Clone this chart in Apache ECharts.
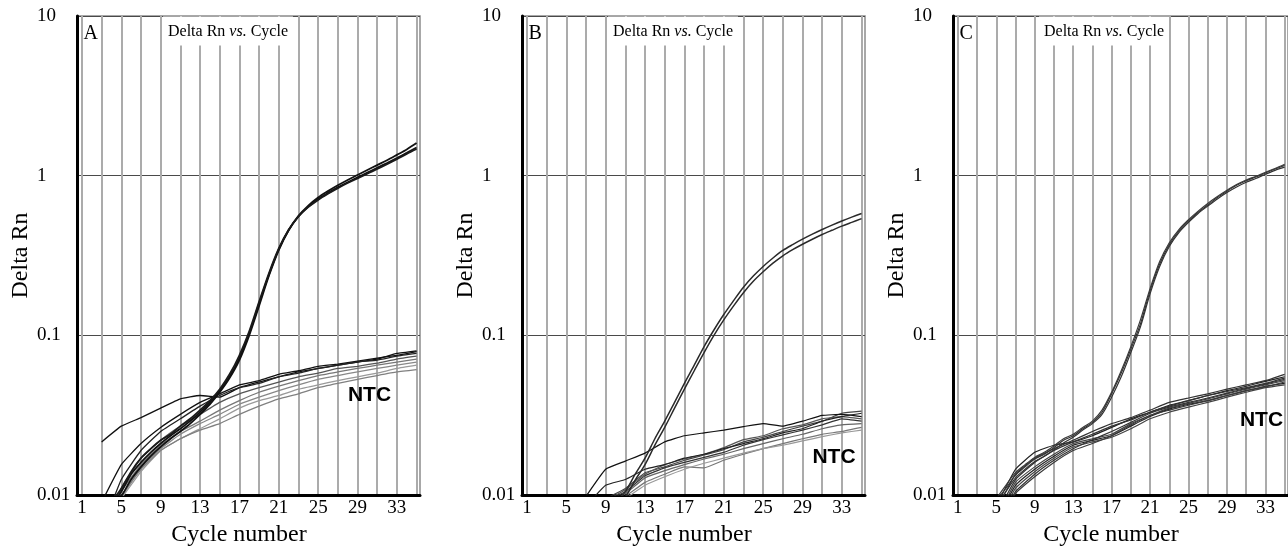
<!DOCTYPE html>
<html>
<head>
<meta charset="utf-8">
<script src="https://cdn.jsdelivr.net/npm/echarts@6/dist/echarts.min.js"></script>
<style>
  html, body { margin: 0; padding: 0; background: #fff; }
  #chart { width: 1288px; height: 552px; }
</style>
</head>
<body>
<div id="chart"></div>
<script>
// ---------- axes / ticks ----------
const cycles = [1,2,3,4,5,6,7,8,9,10,11,12,13,14,15,16,17,18,19,20,21,22,23,24,25,26,27,28,29,30,31,32,33,34,35];
const oddCycles = [1,3,5,7,9,11,13,15,17,19,21,23,25,27,29,31,33,35];
const xGridCycles = [1,3,5,7,9,11,13,15,17,19,21,23,25,27,29,31,33,35];
const xTickLabels = [1,5,9,13,17,21,25,29,33];
const yTickLabels = ['0.01','0.1','1','10'];
const panelLetters = ['A','B','C'];
const ntcText = 'NTC';

// ---------- Panel A (values per cycle 1..35) ----------
const posA1 = [null,null,null,0.0085,0.0105,0.0135,0.016,0.0185,0.021,0.0235,0.026,0.029,0.033,0.038,0.045,0.055,0.072,0.103,0.158,0.24,0.345,0.455,0.555,0.64,0.715,0.78,0.845,0.91,0.975,1.045,1.12,1.2,1.29,1.39,1.5];
const posA2 = [null,null,null,0.008,0.0098,0.0125,0.015,0.0175,0.02,0.0225,0.025,0.028,0.032,0.037,0.044,0.054,0.07,0.1,0.153,0.236,0.342,0.455,0.56,0.65,0.73,0.8,0.87,0.94,1.01,1.085,1.165,1.25,1.35,1.46,1.6];
const posA3 = [null,null,null,0.009,0.011,0.014,0.017,0.0195,0.022,0.024,0.027,0.03,0.034,0.039,0.046,0.057,0.075,0.106,0.162,0.245,0.35,0.458,0.555,0.635,0.705,0.77,0.835,0.9,0.96,1.03,1.1,1.18,1.27,1.37,1.47];
// NTC A (values at odd cycles 1..35)
const ntcA1 = [null,0.0215,0.027,0.0305,0.035,0.04,0.042,0.041,0.047,0.051,0.055,0.059,0.062,0.065,0.068,0.071,0.077,0.08];
const ntcA2 = [null,0.009,0.0155,0.021,0.0265,0.032,0.038,0.043,0.049,0.052,0.057,0.06,0.064,0.066,0.069,0.072,0.075,0.079];
const ntcA3 = [null,0.006,0.0125,0.019,0.025,0.03,0.036,0.042,0.047,0.05,0.055,0.058,0.062,0.065,0.068,0.07,0.074,0.077];
const ntcA4 = [null,0.005,0.011,0.017,0.022,0.027,0.032,0.038,0.043,0.047,0.051,0.055,0.058,0.062,0.064,0.067,0.071,0.074];
const ntcA5 = [null,0.005,0.0105,0.0155,0.0205,0.025,0.029,0.034,0.039,0.044,0.048,0.052,0.056,0.059,0.062,0.065,0.068,0.071];
const ntcA6 = [null,0.0045,0.0095,0.0148,0.0195,0.024,0.028,0.032,0.037,0.041,0.045,0.049,0.053,0.056,0.059,0.062,0.065,0.068];
const ntcA7 = [null,null,0.0095,0.014,0.019,0.0225,0.026,0.03,0.035,0.039,0.042,0.046,0.049,0.052,0.055,0.058,0.062,0.065];
const ntcA8 = [null,0.0045,0.0098,0.0145,0.019,0.0225,0.0255,0.028,0.032,0.036,0.04,0.043,0.047,0.05,0.053,0.056,0.059,0.061];

// ---------- Panel B ----------
const posB1 = [null,null,null,null,null,null,null,null,null,0.0088,0.0105,0.0135,0.017,0.0225,0.029,0.038,0.05,0.065,0.085,0.108,0.135,0.165,0.2,0.235,0.27,0.305,0.34,0.37,0.4,0.43,0.46,0.49,0.52,0.55,0.58];
const posB2 = [null,null,null,null,null,null,null,null,null,0.0082,0.0097,0.0124,0.0155,0.0205,0.0265,0.035,0.046,0.06,0.078,0.1,0.125,0.153,0.185,0.218,0.25,0.283,0.315,0.344,0.372,0.4,0.428,0.455,0.483,0.51,0.538];
const ntcB1 = [null,null,null,0.0098,0.0145,0.0163,0.0183,0.0215,0.0235,0.0245,0.0255,0.0268,0.028,0.027,0.029,0.0315,0.032,0.031];
const ntcB2 = [null,null,null,0.0085,0.0115,0.0125,0.0145,0.0155,0.017,0.018,0.0195,0.021,0.0225,0.0245,0.026,0.029,0.031,0.0325];
const ntcB3 = [null,null,null,null,0.0095,0.011,0.0138,0.015,0.0165,0.0178,0.0192,0.0215,0.023,0.025,0.027,0.029,0.0325,0.0335];
const ntcB4 = [null,null,null,null,0.009,0.0105,0.0132,0.0148,0.016,0.0172,0.0185,0.0205,0.0222,0.0238,0.0255,0.0275,0.03,0.029];
const ntcB5 = [null,null,null,null,0.0088,0.0102,0.0128,0.0142,0.0155,0.0168,0.018,0.0195,0.021,0.0225,0.024,0.026,0.0275,0.028];
const ntcB6 = [null,null,null,null,0.0085,0.0098,0.012,0.0135,0.015,0.0148,0.0165,0.018,0.0195,0.021,0.0225,0.024,0.025,0.0265];
const ntcB7 = [null,null,null,null,0.008,0.0095,0.0115,0.013,0.0145,0.0158,0.017,0.0183,0.0195,0.0205,0.0218,0.0232,0.0245,0.0255];
const ntcB8 = [null,null,null,null,0.0092,0.0108,0.0135,0.0155,0.0168,0.018,0.0198,0.0222,0.0235,0.026,0.0275,0.03,0.031,0.03];

// ---------- Panel C ----------
const posC1 = [null,null,null,null,0.0092,0.011,0.0133,0.015,0.0168,0.018,0.0198,0.022,0.0235,0.026,0.0285,0.033,0.043,0.058,0.082,0.118,0.19,0.28,0.37,0.45,0.52,0.59,0.655,0.73,0.8,0.87,0.93,0.98,1.04,1.1,1.16];
const posC2 = [null,null,null,null,0.0088,0.0105,0.0128,0.0145,0.0162,0.0175,0.0192,0.0212,0.023,0.0255,0.028,0.032,0.041,0.055,0.078,0.113,0.182,0.27,0.36,0.44,0.51,0.58,0.645,0.715,0.785,0.85,0.91,0.96,1.02,1.08,1.13];
const posC3 = [null,null,null,null,0.0095,0.0115,0.0138,0.0155,0.0172,0.0185,0.0203,0.0225,0.024,0.0265,0.029,0.034,0.044,0.06,0.085,0.125,0.196,0.29,0.38,0.46,0.53,0.6,0.67,0.74,0.81,0.88,0.94,0.99,1.05,1.11,1.18];
const ntcC1 = [null,null,0.0085,0.0145,0.0185,0.0205,0.0215,0.0235,0.0265,0.03,0.033,0.0365,0.039,0.042,0.045,0.048,0.0515,0.055];
const ntcC2 = [null,null,0.008,0.0135,0.017,0.0195,0.022,0.025,0.028,0.0305,0.034,0.038,0.0405,0.043,0.046,0.049,0.052,0.057];
const ntcC3 = [null,null,0.0075,0.0125,0.016,0.019,0.0215,0.024,0.027,0.0295,0.033,0.036,0.039,0.042,0.0445,0.047,0.05,0.054];
const ntcC4 = [null,null,0.007,0.012,0.015,0.018,0.021,0.0225,0.024,0.028,0.0315,0.035,0.0375,0.04,0.043,0.046,0.049,0.052];
const ntcC5 = [null,null,0.0068,0.0115,0.0145,0.0175,0.0205,0.022,0.0235,0.027,0.031,0.0345,0.037,0.039,0.042,0.045,0.048,0.05];
const ntcC6 = [null,null,0.0065,0.011,0.014,0.017,0.02,0.0215,0.023,0.026,0.03,0.033,0.0355,0.038,0.041,0.044,0.047,0.049];
const ntcC7 = [null,null,0.0062,0.0105,0.0135,0.0165,0.0195,0.0222,0.025,0.0285,0.0325,0.0355,0.038,0.0405,0.0435,0.0465,0.0495,0.053];
const ntcC8 = [null,null,0.006,0.0102,0.013,0.016,0.019,0.021,0.0235,0.0275,0.0315,0.034,0.0365,0.039,0.042,0.045,0.0475,0.051];

// ---------- styling / layout (kept separate from data) ----------
const SERIF = '"Liberation Serif", "Times New Roman", serif';
const SANS = '"Liberation Sans", Arial, sans-serif';
const gridLefts = [77, 522, 953];
const gridTop = 16, gridW = 343, gridH = 484;
const ntcPos = [[292.5, 395], [312, 457], [308.5, 420]];

const panels = [
  {
    pos: [posA1, posA2, posA3], posColor: ['#111', '#111', '#1a1a1a'], posWidth: 1.8,
    ntc: [ntcA1, ntcA2, ntcA3, ntcA4, ntcA5, ntcA6, ntcA7, ntcA8],
    ntcColor: ['#111', '#111', '#222', '#555', '#777', '#888', '#9a9a9a', '#808080'], ntcWidth: 1.3
  },
  {
    pos: [posB1, posB2], posColor: ['#2a2a2a', '#2a2a2a'], posWidth: 1.5,
    ntc: [ntcB1, ntcB2, ntcB3, ntcB4, ntcB5, ntcB6, ntcB7, ntcB8],
    ntcColor: ['#111', '#222', '#444', '#333', '#666', '#777', '#999', '#555'], ntcWidth: 1.2
  },
  {
    pos: [posC1, posC2, posC3], posColor: ['#333', '#333', '#3a3a3a'], posWidth: 1.2,
    ntc: [ntcC1, ntcC2, ntcC3, ntcC4, ntcC5, ntcC6, ntcC7, ntcC8],
    ntcColor: ['#222', '#333', '#333', '#444', '#222', '#444', '#333', '#3a3a3a'], ntcWidth: 1.2
  }
];

function pairs(xs, ys) {
  const out = [];
  for (let i = 0; i < ys.length; i++) if (ys[i] != null) out.push([xs[i], ys[i]]);
  return out;
}

const grid = [], xAxis = [], yAxis = [], series = [], graphic = [];
panels.forEach((p, i) => {
  grid.push({ left: gridLefts[i], top: gridTop, width: gridW, height: gridH,
    show: true, borderColor: '#8c8c8c', borderWidth: 1.5, backgroundColor: 'transparent' });
  xAxis.push({
    gridIndex: i, type: 'value', min: 0.5, max: 35.35,
    axisLine: { show: true, onZero: false, lineStyle: { color: '#000', width: 3 } },
    axisTick: { show: false, customValues: xGridCycles },
    axisLabel: { customValues: xTickLabels, margin: 4, fontFamily: SERIF, fontSize: 19, color: '#000' },
    splitLine: { show: true, lineStyle: { color: '#ababab', width: 2 } },
    name: 'Cycle number', nameLocation: 'middle', nameGap: 28,
    nameTextStyle: { fontFamily: SERIF, fontSize: 24, color: '#000', padding: [0, 19, 0, 0] }
  });
  yAxis.push({
    gridIndex: i, type: 'log', logBase: 10, min: 0.01, max: 10,
    axisLine: { show: true, onZero: false, lineStyle: { color: '#000', width: 3 } },
    axisTick: { show: false },
    axisLabel: { align: 'left', margin: 40, fontFamily: SERIF, fontSize: 19, color: '#000',
      formatter: v => yTickLabels[Math.round(Math.log10(v)) + 2] },
    splitLine: { show: true, lineStyle: { color: '#4a4a4a', width: 1 } },
    name: 'Delta Rn', nameLocation: 'middle', nameGap: 44, nameRotate: 90,
    nameTextStyle: { fontFamily: SERIF, fontSize: 24, color: '#000' }
  });
  p.ntc.forEach((vals, k) => {
    series.push({ type: 'line', xAxisIndex: i, yAxisIndex: i, data: pairs(oddCycles, vals),
      showSymbol: false, symbol: 'none', smooth: 0.12, silent: true, animation: false,
      z: 2 + (p.ntcColor[k] < '#4' ? 1 : 0),
      lineStyle: { color: p.ntcColor[k], width: p.ntcWidth } });
  });
  p.pos.forEach((vals, k) => {
    series.push({ type: 'line', xAxisIndex: i, yAxisIndex: i, data: pairs(cycles, vals),
      showSymbol: false, symbol: 'none', smooth: 0.3, silent: true, animation: false, z: 4,
      lineStyle: { color: p.posColor[k], width: p.posWidth } });
  });
  graphic.push({ type: 'text', z: 100, x: gridLefts[i] + 151, y: 31,
    style: { text: '{a|Delta Rn }{b|vs.}{a| Cycle}', align: 'center', verticalAlign: 'middle',
      textAlign: 'center', textVerticalAlign: 'middle',
      backgroundColor: '#fff', padding: [7, 5, 6, 5],
      rich: { a: { fontFamily: SERIF, fontSize: 16, fill: '#000', color: '#000' },
              b: { fontFamily: SERIF, fontSize: 16, fontStyle: 'italic', fill: '#000', color: '#000' } } } });
  graphic.push({ type: 'text', z: 100, x: gridLefts[i] + 6.5, y: 34,
    style: { text: panelLetters[i], fontFamily: SERIF, fontSize: 20, fill: '#000',
      align: 'left', verticalAlign: 'middle', textAlign: 'left', textVerticalAlign: 'middle' } });
  graphic.push({ type: 'text', z: 100, x: gridLefts[i] + ntcPos[i][0], y: ntcPos[i][1],
    style: { text: ntcText, fontFamily: SANS, fontWeight: 'bold', fontSize: 21, fill: '#000',
      align: 'center', verticalAlign: 'middle', textAlign: 'center', textVerticalAlign: 'middle' } });
});

const chart = echarts.init(document.getElementById('chart'), null, { renderer: 'canvas', width: 1288, height: 552 });
chart.setOption({
  backgroundColor: '#fff',
  animation: false,
  grid, xAxis, yAxis, series, graphic
});
</script>
</body>
</html>
